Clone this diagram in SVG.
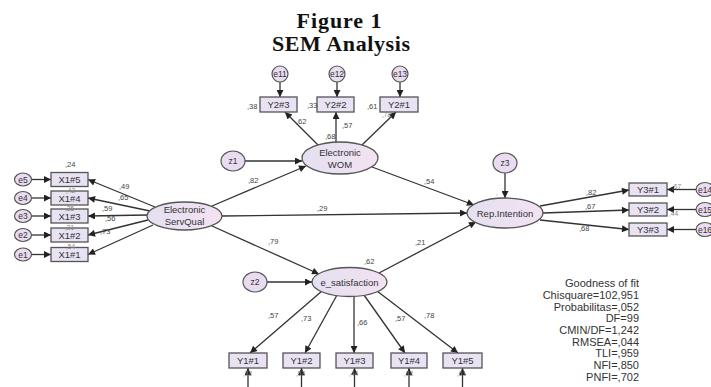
<svg xmlns="http://www.w3.org/2000/svg" width="711" height="387" viewBox="0 0 711 387">
  <defs>
    <marker id="arr" viewBox="0 0 10 10" refX="10" refY="5" markerWidth="9" markerHeight="7" markerUnits="userSpaceOnUse" orient="auto">
      <path d="M0,0 L10,5 L0,10 z" fill="#222"/>
    </marker>
    <linearGradient id="lat" x1="0" y1="0" x2="1" y2="0">
      <stop offset="0" stop-color="#e4e0f0"/>
      <stop offset="1" stop-color="#f3e2f2"/>
    </linearGradient>
  </defs>
  <style>
    .title { font-family: "Liberation Serif", "Times New Roman", serif; font-weight: bold; font-size: 22px; fill: #111; }
    .lat { fill: url(#lat); stroke: #555; stroke-width: 1.3; }
    .obs { fill: #e9e2f3; stroke: #555; stroke-width: 1.3; }
    .err { fill: #eadcf0; stroke: #555; stroke-width: 1.2; }
    .nt { font-family: "Liberation Sans", Arial, sans-serif; font-size: 9.5px; fill: #333; text-anchor: middle; }
    .et { font-family: "Liberation Sans", Arial, sans-serif; font-size: 8.5px; fill: #333; text-anchor: middle; }
    .lb { font-family: "Liberation Sans", Arial, sans-serif; font-size: 7.5px; fill: #444; }
    .faint { font-family: "Liberation Sans", Arial, sans-serif; font-size: 6.5px; fill: #888; }
    .fit { font-family: "Liberation Sans", Arial, sans-serif; font-size: 11px; fill: #333; text-anchor: end; }
    #connectors line { stroke: #333; stroke-width: 1.3; marker-end: url(#arr); }
  </style>
  <rect width="711" height="387" fill="#fff"/>

  <text class="title" x="339" y="28" text-anchor="middle" textLength="85" lengthAdjust="spacing">Figure 1</text>
  <text class="title" x="341" y="51" text-anchor="middle" textLength="138" lengthAdjust="spacing">SEM Analysis</text>

  <!-- paths and loadings -->
  <g id="connectors">
    <!-- ServQual indicators -->
    <line x1="155" y1="207" x2="88" y2="179.5"/>
    <line x1="150" y1="211" x2="88" y2="198"/>
    <line x1="147" y1="215" x2="88" y2="216"/>
    <line x1="148" y1="220" x2="88" y2="235"/>
    <line x1="153" y1="225" x2="88" y2="254.5"/>
    <!-- errors into X1 -->
    <line x1="32" y1="179.5" x2="51" y2="179.5"/>
    <line x1="32" y1="198" x2="51" y2="198"/>
    <line x1="32" y1="216" x2="51" y2="216"/>
    <line x1="32" y1="235" x2="51" y2="235"/>
    <line x1="32" y1="254.5" x2="51" y2="254.5"/>
    <!-- structural paths -->
    <line x1="212" y1="206" x2="306" y2="166"/>
    <line x1="245" y1="161" x2="302" y2="161"/>
    <line x1="222" y1="216" x2="467" y2="213"/>
    <line x1="212" y1="226" x2="319" y2="274"/>
    <line x1="267" y1="282" x2="312" y2="282"/>
    <line x1="372" y1="167" x2="474" y2="205"/>
    <line x1="379" y1="273" x2="476" y2="222"/>
    <line x1="505" y1="173" x2="505" y2="198"/>
    <!-- WOM indicators -->
    <line x1="318" y1="145" x2="285" y2="112"/>
    <line x1="336" y1="142" x2="336" y2="112"/>
    <line x1="362" y1="145" x2="396" y2="112"/>
    <line x1="280" y1="82" x2="280" y2="97"/>
    <line x1="337" y1="82" x2="337" y2="97"/>
    <line x1="400" y1="82" x2="400" y2="97"/>
    <!-- e_satisfaction indicators -->
    <line x1="322" y1="291" x2="250" y2="353"/>
    <line x1="337" y1="295" x2="305" y2="353"/>
    <line x1="354" y1="297" x2="354" y2="353"/>
    <line x1="364" y1="295" x2="405" y2="353"/>
    <line x1="377" y1="291" x2="458" y2="353"/>
    <line x1="248" y1="387" x2="248" y2="368"/>
    <line x1="301.5" y1="387" x2="301.5" y2="368"/>
    <line x1="354.5" y1="387" x2="354.5" y2="368"/>
    <line x1="409" y1="387" x2="409" y2="368"/>
    <line x1="462.5" y1="387" x2="462.5" y2="368"/>
    <!-- Rep.Intention indicators -->
    <line x1="540" y1="206" x2="629" y2="190"/>
    <line x1="543" y1="213" x2="629" y2="210"/>
    <line x1="540" y1="220" x2="629" y2="229.5"/>
    <line x1="696" y1="189.5" x2="667" y2="189.5"/>
    <line x1="696" y1="209.5" x2="667" y2="209.5"/>
    <line x1="696" y1="229.5" x2="667" y2="229.5"/>
  </g>

  <!-- latent variables -->
  <g id="servqual">
    <ellipse class="lat" cx="184.5" cy="216" rx="37.5" ry="14"/>
    <text class="nt" x="184.5" y="213">Electronic</text>
    <text class="nt" x="184.5" y="225">ServQual</text>
  </g>
  <g id="wom">
    <ellipse class="lat" cx="340" cy="158" rx="38" ry="16"/>
    <text class="nt" x="340" y="156">Electronic</text>
    <text class="nt" x="340" y="168">WOM</text>
  </g>
  <g id="esat">
    <ellipse class="lat" cx="349.5" cy="282" rx="37.5" ry="14.5"/>
    <text class="nt" x="349.5" y="285.5">e_satisfaction</text>
  </g>
  <g id="rep">
    <ellipse class="lat" cx="505" cy="213" rx="38" ry="15"/>
    <text class="nt" x="505" y="216.5">Rep.Intention</text>
  </g>

  <!-- disturbances -->
  <g id="z1"><ellipse class="err" cx="233" cy="161" rx="12" ry="10"/><text class="et" x="233" y="164">z1</text></g>
  <g id="z2"><ellipse class="err" cx="255" cy="282" rx="12" ry="10"/><text class="et" x="255" y="285">z2</text></g>
  <g id="z3"><ellipse class="err" cx="505" cy="163" rx="12" ry="10"/><text class="et" x="505" y="166">z3</text></g>

  <!-- X1 indicators -->
  <g id="x1_5"><rect class="obs" x="51" y="172.5" width="37" height="14"/><text class="nt" x="69.5" y="183">X1#5</text></g>
  <g id="x1_4"><rect class="obs" x="51" y="191" width="37" height="14"/><text class="nt" x="69.5" y="201.5">X1#4</text></g>
  <g id="x1_3"><rect class="obs" x="51" y="209" width="37" height="14"/><text class="nt" x="69.5" y="219.5">X1#3</text></g>
  <g id="x1_2"><rect class="obs" x="51" y="228" width="37" height="14"/><text class="nt" x="69.5" y="238.5">X1#2</text></g>
  <g id="x1_1"><rect class="obs" x="51" y="247.5" width="37" height="14"/><text class="nt" x="69.5" y="258">X1#1</text></g>
  <g id="e5"><ellipse class="err" cx="23" cy="179.5" rx="8.5" ry="6.5"/><text class="et" x="23" y="182.5">e5</text></g>
  <g id="e4"><ellipse class="err" cx="23" cy="198" rx="8.5" ry="6.5"/><text class="et" x="23" y="201">e4</text></g>
  <g id="e3"><ellipse class="err" cx="23" cy="216" rx="8.5" ry="6.5"/><text class="et" x="23" y="219">e3</text></g>
  <g id="e2"><ellipse class="err" cx="23" cy="235" rx="8.5" ry="6.5"/><text class="et" x="23" y="238">e2</text></g>
  <g id="e1"><ellipse class="err" cx="23" cy="254.5" rx="8.5" ry="6.5"/><text class="et" x="23" y="257.5">e1</text></g>

  <!-- Y2 indicators -->
  <g id="y2_3"><rect class="obs" x="260" y="97" width="37" height="15"/><text class="nt" x="278.5" y="108">Y2#3</text></g>
  <g id="y2_2"><rect class="obs" x="317" y="97" width="37" height="15"/><text class="nt" x="335.5" y="108">Y2#2</text></g>
  <g id="y2_1"><rect class="obs" x="380" y="97" width="38" height="15"/><text class="nt" x="399" y="108">Y2#1</text></g>
  <g id="e11"><ellipse class="err" cx="280" cy="74" rx="8" ry="8"/><text class="et" x="280" y="77" font-size="7.5">e11</text></g>
  <g id="e12"><ellipse class="err" cx="337" cy="74" rx="8" ry="8"/><text class="et" x="337" y="77" font-size="7.5">e12</text></g>
  <g id="e13"><ellipse class="err" cx="400" cy="74" rx="8" ry="8"/><text class="et" x="400" y="77" font-size="7.5">e13</text></g>

  <!-- Y1 indicators -->
  <g id="y1_1"><rect class="obs" x="229" y="353" width="38" height="15"/><text class="nt" x="248" y="364">Y1#1</text></g>
  <g id="y1_2"><rect class="obs" x="283" y="353" width="37" height="15"/><text class="nt" x="301.5" y="364">Y1#2</text></g>
  <g id="y1_3"><rect class="obs" x="336" y="353" width="37" height="15"/><text class="nt" x="354.5" y="364">Y1#3</text></g>
  <g id="y1_4"><rect class="obs" x="391" y="353" width="36" height="15"/><text class="nt" x="409" y="364">Y1#4</text></g>
  <g id="y1_5"><rect class="obs" x="443" y="353" width="39" height="15"/><text class="nt" x="462.5" y="364">Y1#5</text></g>

  <!-- Y3 indicators -->
  <g id="y3_1"><rect class="obs" x="629" y="183" width="38" height="13"/><text class="nt" x="648" y="193">Y3#1</text></g>
  <g id="y3_2"><rect class="obs" x="629" y="203" width="38" height="13"/><text class="nt" x="648" y="213">Y3#2</text></g>
  <g id="y3_3"><rect class="obs" x="629" y="223" width="38" height="13"/><text class="nt" x="648" y="233">Y3#3</text></g>
  <g id="e14"><ellipse class="err" cx="705" cy="189.5" rx="9" ry="7"/><text class="et" x="705" y="192.5" font-size="7.5">e14</text></g>
  <g id="e15"><ellipse class="err" cx="705" cy="209.5" rx="9" ry="7"/><text class="et" x="705" y="212.5" font-size="7.5">e15</text></g>
  <g id="e16"><ellipse class="err" cx="705" cy="229.5" rx="9" ry="7"/><text class="et" x="705" y="232.5" font-size="7.5">e16</text></g>

  <!-- estimates -->
  <g id="estimates">
    <text class="lb" x="65" y="167">,24</text>
    <text class="faint" x="66" y="192.5">,42</text>
    <text class="faint" x="65" y="210.5">,35</text>
    <text class="faint" x="65" y="229.5">,31</text>
    <text class="faint" x="66" y="249">,54</text>
    <text class="lb" x="119" y="189">,49</text>
    <text class="lb" x="118" y="200">,65</text>
    <text class="lb" x="102" y="211">,59</text>
    <text class="lb" x="105" y="221">,56</text>
    <text class="lb" x="100" y="234">,73</text>
    <text class="lb" x="247" y="109">,38</text>
    <text class="lb" x="307" y="108">,33</text>
    <text class="lb" x="367" y="109">,61</text>
    <text class="faint" x="382" y="117">,78</text>
    <text class="lb" x="296" y="124">,62</text>
    <text class="lb" x="342" y="128">,57</text>
    <text class="lb" x="325" y="139">,68</text>
    <text class="lb" x="248" y="183">,82</text>
    <text class="lb" x="424" y="184">,54</text>
    <text class="lb" x="317" y="211">,29</text>
    <text class="lb" x="268" y="244">,79</text>
    <text class="lb" x="415" y="245">,21</text>
    <text class="lb" x="364" y="264">,62</text>
    <text class="faint" x="496" y="195">,</text>
    <text class="lb" x="268" y="318">,57</text>
    <text class="lb" x="301" y="321">,73</text>
    <text class="lb" x="357" y="325">,66</text>
    <text class="lb" x="395" y="321">,57</text>
    <text class="lb" x="424" y="318">,78</text>
    <text class="faint" x="243" y="376">,32</text>
    <text class="faint" x="296" y="376">,53</text>
    <text class="faint" x="349" y="376">,44</text>
    <text class="faint" x="404" y="376">,32</text>
    <text class="faint" x="457" y="376">,61</text>
    <text class="lb" x="586" y="195">,82</text>
    <text class="lb" x="585" y="209">,67</text>
    <text class="lb" x="579" y="231">,68</text>
    <text class="faint" x="672" y="189">,67</text>
    <text class="faint" x="669" y="216">,44</text>
  </g>

  <!-- fit indices -->
  <g id="fit">
    <text class="fit" x="639" y="287">Goodness of fit</text>
    <text class="fit" x="639" y="299">Chisquare=102,951</text>
    <text class="fit" x="639" y="310.5">Probabilitas=,052</text>
    <text class="fit" x="639" y="322">DF=99</text>
    <text class="fit" x="639" y="334">CMIN/DF=1,242</text>
    <text class="fit" x="639" y="345.5">RMSEA=,044</text>
    <text class="fit" x="639" y="357">TLI=,959</text>
    <text class="fit" x="639" y="369">NFI=,850</text>
    <text class="fit" x="639" y="380.5">PNFI=,702</text>
  </g>
</svg>
